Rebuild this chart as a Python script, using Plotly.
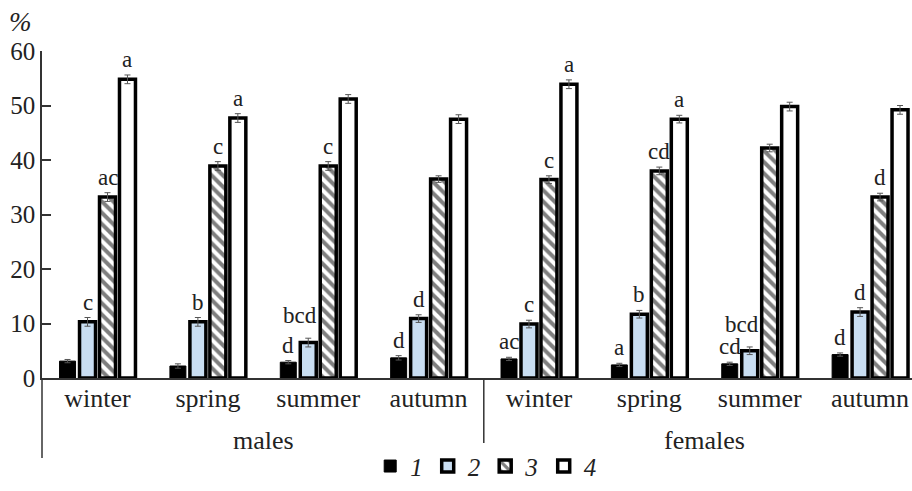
import plotly.graph_objects as go

seasons = ["winter", "spring", "summer", "autumn"]
sexes = ["males", "females"]
series_names = ["1", "2", "3", "4"]

v1 = [3.1, 2.2, 2.9, 3.7, 3.5, 2.4, 2.6, 4.3]
v2 = [10.3, 10.3, 6.5, 10.9, 9.9, 11.7, 5.0, 12.1]
v3 = [33.2, 38.9, 38.9, 36.5, 36.4, 38.0, 42.2, 33.2]
v4 = [54.8, 47.7, 51.2, 47.5, 53.9, 47.5, 49.8, 49.2]

e1 = [0.3, 0.4, 0.3, 0.4, 0.3, 0.3, 0.3, 0.3]
e2 = [0.8, 0.8, 0.8, 0.7, 0.7, 0.7, 0.7, 0.8]
e3 = [0.8, 0.8, 0.8, 0.6, 0.7, 0.7, 0.7, 0.7]
e4 = [0.8, 0.8, 0.8, 0.8, 0.8, 0.7, 0.8, 0.8]

l1 = ["", "", "d", "d", "ac", "a", "cd", "d"]
l2 = ["c", "b", "bcd", "d", "c", "b", "bcd", "d"]
l3 = ["ac", "c", "c", "", "c", "cd", "", "d"]
l4 = ["a", "a", "", "", "a", "a", "", ""]

values = [v1, v2, v3, v4]
errors = [e1, e2, e3, e4]
labels = [l1, l2, l3, l4]

tick_text = seasons * len(sexes)
x_idx = list(range(len(tick_text)))

FONT = "Liberation Serif, Times New Roman, serif"
bargap = 0.276
ngroup = 4
w = (1 - bargap) / ngroup

styles = [
    dict(color="black", line=dict(color="black", width=1)),
    dict(color="#c9def2", line=dict(color="black", width=3.5)),
    dict(color="white", line=dict(color="black", width=3.5),
         pattern=dict(shape="\\", fgcolor="black", bgcolor="white", size=8, solidity=0.5)),
    dict(color="white", line=dict(color="black", width=3.5)),
]

fig = go.Figure()
for k in range(4):
    fig.add_trace(go.Bar(
        x=x_idx, y=values[k], name=series_names[k],
        marker=styles[k],
        error_y=dict(type="data", array=errors[k], color="#555", thickness=1, width=3),
    ))

annotations = []
for k in range(4):
    for i in x_idx:
        t = labels[k][i]
        if not t:
            continue
        long = len(t) >= 3
        annotations.append(dict(
            x=i + (k - 1.5) * w, y=values[k][i] + errors[k][i], xref="x", yref="y",
            text=t, showarrow=False, xanchor="center", yanchor="bottom",
            yshift=8 if long else 1, xshift=-8 if long else 0,
            font=dict(family=FONT, size=23, color="#222"),
        ))

n_per = len(seasons)
for s, sex in enumerate(sexes):
    annotations.append(dict(
        x=s * n_per + (n_per - 1) / 2, y=-0.19, xref="x", yref="paper",
        text=sex, showarrow=False, xanchor="center", yanchor="middle",
        font=dict(family=FONT, size=26, color="#222"),
    ))

annotations.append(dict(
    x=-0.025, y=1.09, xref="paper", yref="paper", text="%", showarrow=False,
    xanchor="center", yanchor="middle",
    font=dict(family=FONT, size=27, color="#222", style="italic"),
))

shapes = [
    dict(type="line", xref="x", yref="paper", x0=n_per - 0.5, x1=n_per - 0.5,
         y0=0, y1=-0.245, line=dict(color="#333", width=1.5)),
    dict(type="line", xref="paper", yref="paper", x0=0, x1=0,
         y0=0, y1=-0.245, line=dict(color="#333", width=1.5)),
]

fig.update_layout(
    width=912, height=491,
    margin=dict(l=42, r=0, t=51, b=113, autoexpand=False),
    plot_bgcolor="white", paper_bgcolor="white",
    barmode="group", bargap=bargap, bargroupgap=0.2,
    font=dict(family=FONT, size=24, color="#222"),
    showlegend=True,
    legend=dict(orientation="h", x=0.51, xanchor="center", y=-0.27, yanchor="middle",
                font=dict(family=FONT, size=25, style="italic", color="#222"),
                itemwidth=30, traceorder="normal"),
    annotations=annotations,
    shapes=shapes,
)
fig.update_xaxes(
    range=[-0.503, 7.38], tickvals=x_idx, ticktext=tick_text, automargin=False,
    showline=True, linecolor="#333", linewidth=1.5, ticks="",
    showgrid=False, zeroline=False, ticklabelstandoff=-4,
    tickfont=dict(family=FONT, size=26, color="#222"),
)
fig.update_yaxes(
    range=[0, 60], tickvals=[0, 10, 20, 30, 40, 50, 60], automargin=False,
    showline=True, linecolor="#333", linewidth=1.5,
    ticks="inside", ticklen=9, tickwidth=1.5, tickcolor="#333",
    showgrid=False, zeroline=False,
    tickfont=dict(family=FONT, size=25, color="#222"),
)

fig.write_html(
    "out.html",
    config={"displayModeBar": False},
    post_script="document.body.style.margin='0';document.body.style.overflow='hidden';",
)
